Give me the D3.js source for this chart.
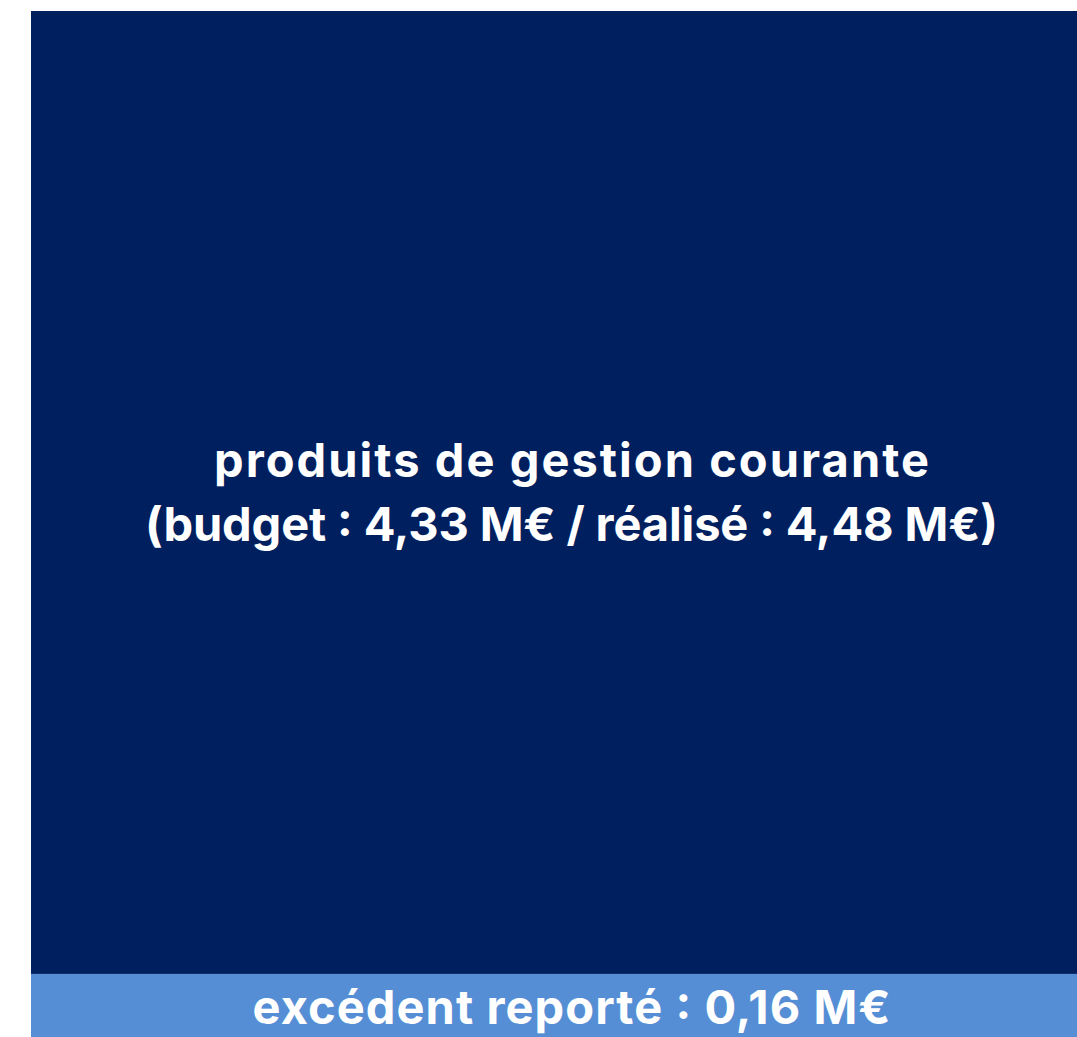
<!DOCTYPE html>
<html>
<head>
<meta charset="utf-8">
<script src="https://cdn.jsdelivr.net/npm/d3@7"></script>
<style>
  html, body { margin: 0; padding: 0; background: #fff; overflow: hidden; }
  text { font-family: Inter, "Open Sans", sans-serif; font-weight: 700; fill: #fff; }
</style>
</head>
<body>
<div id="main"></div>
<script>
const ctx = {
    w: 1077,
    h: 1037,
    left: 31,
    top: 11,
    chartW: 1081,   // chart runs past the right edge of the window
    chartH: 1031,   // and a little past the bottom
    fontSize: 47,
    lineH: 64
};

// tiles of the treemap (one column, stacked)
const tileNames = ["produits de gestion courante", "excédent reporté"];
// share of the area each tile takes
const tileShares = [93.4, 6.6];
const tileColors = ["#001f5f", "#558ed5"];
// label lines for each tile
const tileLabels = [
    ["produits de gestion courante", "(budget : 4,33 M€ / réalisé : 4,48 M€)"],
    ["excédent reporté : 0,16 M€"]
];
// rendered width of each label line (the original font is wider than Inter)
const labelWidths = [[715, 853], [638]];

function createViz() {
    let svgEl = d3.select("#main").append("svg")
        .attr("width", ctx.w)
        .attr("height", ctx.h);
    let rootG = svgEl.append("g")
        .attr("id", "rootG")
        .attr("transform", `translate(${ctx.left},${ctx.top})`);

    let data = tileNames.map((n, i) => ({
        name: n, value: tileShares[i], color: tileColors[i],
        lines: tileLabels[i], widths: labelWidths[i]
    }));
    let root = d3.hierarchy({ children: data })
        .sum((d) => d.value || 0);
    d3.treemap()
        .tile(d3.treemapSlice)
        .size([ctx.chartW, ctx.chartH])
        .paddingInner(0)(root);

    let leafG = rootG.selectAll("g.leaf")
        .data(root.leaves())
        .enter()
        .append("g")
        .classed("leaf", true)
        .attr("transform", (d) => `translate(${d.x0},${d.y0})`);

    leafG.append("rect")
        .attr("width", (d) => d.x1 - d.x0)
        .attr("height", (d) => d.y1 - d.y0)
        .attr("fill", (d) => d.data.color);

    // centred labels
    leafG.each(function (d) {
        let g = d3.select(this);
        let cx = (d.x1 - d.x0) / 2;
        let cy = (d.y1 - d.y0) / 2;
        let n = d.data.lines.length;
        d.data.lines.forEach((l, i) => {
            g.append("text")
                .attr("x", cx)
                .attr("y", cy + (i - (n - 1) / 2) * ctx.lineH)
                .attr("dy", "0.35em")
                .attr("text-anchor", "middle")
                .attr("textLength", d.data.widths[i])
                .attr("lengthAdjust", "spacing")
                .style("font-size", ctx.fontSize + "px")
                .text(l);
        });
    });
}

createViz();
</script>
</body>
</html>
